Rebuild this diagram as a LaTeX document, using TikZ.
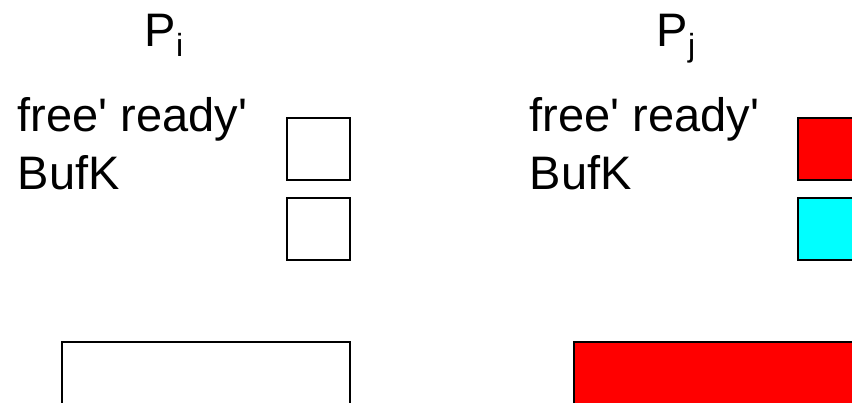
\documentclass[tikz,border=0pt]{standalone}
\usepackage{fontspec}
\setmainfont{Liberation Sans}[Ligatures=TeXOff]
\definecolor{boxred}{HTML}{FF0000}
\definecolor{boxcyan}{HTML}{00FFFF}
\begin{document}
\begin{tikzpicture}[x=1pt,y=-1pt,
  txt/.style={anchor=base west,inner sep=0pt,font=\fontsize{47}{56}\selectfont},
  flag/.style={draw=black,line width=2pt},
  buf/.style={draw=black,line width=2pt}]
\useasboundingbox (0,0) rectangle (852,403);
\clip (0,0) rectangle (852,403);
% process Pi
\node[txt] (pi) at (144.5,47) {P\raisebox{-10pt}{\fontsize{32}{36}\selectfont i}};
\node[txt] (li) at (17.5,132) {free' ready'};
\node[txt] (bki) at (17.5,190) {BufK};
\path[flag] (286.5,118) rectangle (349.7,180.3) node[midway] (fi) {};
\path[flag] (286.5,197.7) rectangle (349.7,260.3) node[midway] (ri) {};
\path[buf] (62.3,341.7) rectangle (349.7,420) node[midway] (bi) {};
% process Pj
\node[txt] (pj) at (656.5,47) {P\raisebox{-10pt}{\fontsize{32}{36}\selectfont j}};
\node[txt] (lj) at (529.5,132) {free' ready'};
\node[txt] (bkj) at (529.5,190) {BufK};
\path[flag,fill=boxred] (798.3,118) rectangle (880,180.3) node[midway] (fj) {};
\path[flag,fill=boxcyan] (798.3,197.7) rectangle (880,260.3) node[midway] (rj) {};
\path[buf,fill=boxred] (574.3,341.7) rectangle (880,420) node[midway] (bj) {};
\end{tikzpicture}
\end{document}
